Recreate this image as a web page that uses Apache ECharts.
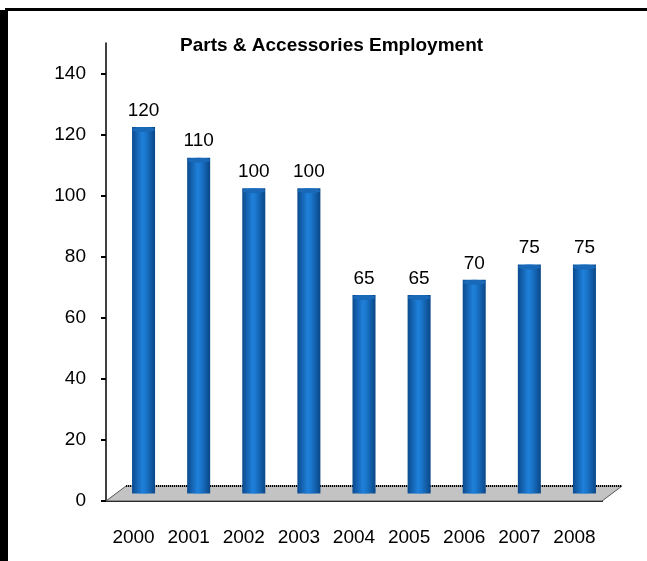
<!DOCTYPE html>
<html>
<head>
<meta charset="utf-8">
<script src="https://cdn.jsdelivr.net/npm/echarts@6/dist/echarts.min.js"></script>
<style>
  html, body { margin: 0; padding: 0; background: #fff; }
  #chart { width: 647px; height: 561px; }
</style>
</head>
<body>
<div id="chart"></div>
<script>
  const years = ['2000', '2001', '2002', '2003', '2004', '2005', '2006', '2007', '2008'];
  const employment = [120, 110, 100, 100, 65, 65, 70, 75, 75];
  const yTicks = [0, 20, 40, 60, 80, 100, 120, 140];

  // 3d depth offsets (floor back edge, bars sit half way in)
  const depthX = 20, depthY = -15;

  const chart = echarts.init(document.getElementById('chart'));

  const barColor = new echarts.graphic.LinearGradient(0, 0, 1, 0, [
    { offset: 0, color: '#0b4a8e' },
    { offset: 0.45, color: '#1f80da' },
    { offset: 0.6, color: '#1a76cc' },
    { offset: 1, color: '#0a4686' }
  ]);

  chart.setOption({
    backgroundColor: '#fff',
    textStyle: { fontFamily: 'Liberation Sans, Arial, sans-serif' },
    title: {
      text: 'Parts & Accessories Employment',
      left: 175,
      top: 31,
      textStyle: { fontSize: 19, fontWeight: 'bold', color: '#000' }
    },
    graphic: [
      { type: 'rect', shape: { x: 5, y: 8, width: 642, height: 3 }, style: { fill: '#000' } },
      { type: 'rect', shape: { x: 0, y: 10, width: 8, height: 551 }, style: { fill: '#000' } }
    ],
    grid: [
      { left: 106, right: 45, top: 43, bottom: 60 },
      { left: 106 + depthX / 2, right: 45 - depthX / 2, top: 43 + depthY / 2, bottom: 60 - depthY / 2 }
    ],
    xAxis: [
      {
        type: 'category', gridIndex: 0, data: years,
        axisLine: { lineStyle: { color: '#000', width: 2 } },
        axisTick: { length: 6, lineStyle: { color: '#000', width: 2 } },
        axisLabel: { color: '#000', fontSize: 19, margin: 27 }
      },
      { type: 'category', gridIndex: 1, data: years, show: false }
    ],
    yAxis: [
      {
        type: 'value', gridIndex: 0, min: 0, max: 150, interval: 10,
        splitLine: { show: false },
        axisLine: { show: true, lineStyle: { color: '#000', width: 1.5 } },
        axisTick: { show: true, customValues: yTicks, length: 5, lineStyle: { color: '#000', width: 2 } },
        axisLabel: { customValues: yTicks, color: '#000', fontSize: 19, margin: 20 }
      },
      { type: 'value', gridIndex: 1, min: 0, max: 150, show: false }
    ],
    series: [
      {
        // gray floor
        type: 'custom',
        xAxisIndex: 0, yAxisIndex: 0,
        silent: true, z: 1,
        data: [[0, 0]],
        renderItem: function (params, api) {
          const half = api.size([1, 0])[0] / 2;
          const p0 = api.coord([0, 0]);
          const p1 = api.coord([years.length - 1, 0]);
          const x0 = p0[0] - half, x1 = p1[0] + half, y = p0[1];
          return {
            type: 'group',
            children: [
              {
                type: 'polygon',
                shape: { points: [[x0, y], [x1, y], [x1 + depthX, y + depthY], [x0 + depthX, y + depthY]] },
                style: { fill: '#c3c3c3', stroke: '#555', lineWidth: 1 }
              },
              {
                type: 'line',
                shape: { x1: x0 + depthX, y1: y + depthY, x2: x1 + depthX, y2: y + depthY },
                style: { stroke: '#000', lineWidth: 2, lineDash: [1, 1] }
              }
            ]
          };
        }
      },
      {
        type: 'bar',
        xAxisIndex: 1, yAxisIndex: 1,
        data: employment,
        barWidth: 23,
        z: 3,
        itemStyle: { color: barColor },
        label: { show: true, position: 'top', distance: 7, color: '#000', fontSize: 19 }
      },
      {
        // cylinder top
        type: 'pictorialBar',
        xAxisIndex: 1, yAxisIndex: 1,
        data: employment,
        symbol: 'circle',
        symbolSize: [23, 5],
        symbolPosition: 'end',
        z: 4,
        silent: true,
        itemStyle: { color: '#1969b8' }
      },
      {
        // cylinder bottom
        type: 'pictorialBar',
        xAxisIndex: 1, yAxisIndex: 1,
        data: employment,
        symbol: 'circle',
        symbolSize: [23, 6],
        symbolPosition: 'start',
        z: 2,
        silent: true,
        itemStyle: { color: barColor }
      }
    ]
  });
</script>
</body>
</html>
